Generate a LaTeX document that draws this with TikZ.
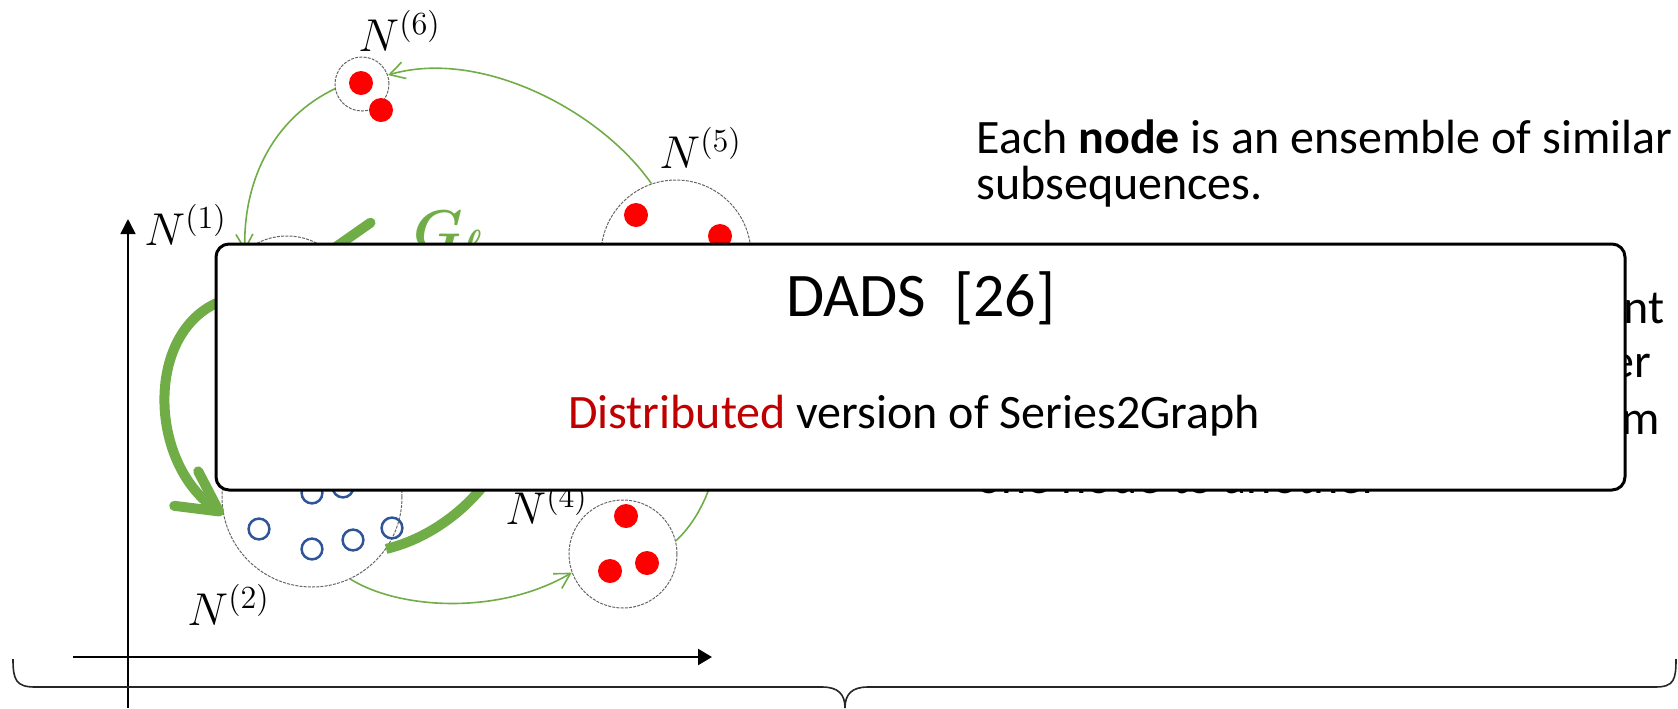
\RequirePackage{fix-cm}
\documentclass[tikz,border=0pt]{standalone}
\usepackage{fontspec}
\setmainfont{Carlito}
\usepackage{bm}
\usetikzlibrary{arrows.meta}
\definecolor{grn}{HTML}{70AD47}
\definecolor{dred}{HTML}{C00000}
\definecolor{ringblue}{HTML}{2F5597}
\begin{document}
\begin{tikzpicture}[x=0.5pt,y=-0.5pt,
  ncirc/.style={circle, draw=black!60, dash pattern=on 1.5pt off 0.6pt, line width=0.5pt, inner sep=0pt},
  thinarr/.style={draw=grn, line width=0.8pt, -{Straight Barb[length=7.5pt,width=8.5pt]}},
  thickA/.style={draw=grn, line width=5pt, -{Straight Barb[length=20pt,width=21pt,round]}},
  thickB/.style={draw=grn, line width=5pt, -{Straight Barb[length=19pt,width=27pt,round]}},
  lab/.style={anchor=base west, inner sep=0pt, font=\fontsize{23}{28}\selectfont},
  body/.style={anchor=base west, inner sep=0pt, font=\fontsize{24}{29}\selectfont},
  ring/.style={draw=ringblue, line width=1.25pt},
]
\useasboundingbox (0,0) rectangle (1678,708);

% axes
\coordinate (yb) at (128,708);
\coordinate (yt) at (128,219);
\coordinate (xl) at (73,657);
\coordinate (xr) at (712,657);
\draw[line width=0.75pt, -{Triangle[length=7.5pt,width=7.5pt]}] (yb) -- (yt);
\draw[line width=1.2pt, -{Triangle[length=7pt,width=8pt]}] (xl) -- (xr);

% brace
\draw[line width=0.8pt, black!85] (13,659) .. controls (13,680) and (16,687) .. (35,687) -- (822,687)
  .. controls (838,687) and (845,694) .. (845,708)
  .. controls (845,694) and (852,687) .. (868,687) -- (1655,687)
  .. controls (1674,687) and (1676,680) .. (1676,659);

% node circles
\node[ncirc, minimum size=27pt] (n6) at (362,84) {};
\node[ncirc, minimum size=75pt] (n5) at (676,255) {};
\node[ncirc, minimum size=65pt] (n1) at (287,301) {};
\node[ncirc, minimum size=90pt] (n2) at (312,497) {};
\node[ncirc, minimum size=54pt] (n4) at (623,554) {};

% thin edges
\draw[thinarr] (n5.109) .. controls (600,110) and (480,48) .. (n6.19);
\draw[thinarr] (n6.190) .. controls (270,120) and (243,185) .. (n1.130);
\draw[thinarr] (n2.295) .. controls (400,610) and (500,615) .. (n4.200);
\draw[thinarr] (n4.14) .. controls (715,505) and (740,420) .. (n5.-70);

% thick edges
\coordinate (kb) at (520,400);
\draw[thickA] (n1.west) .. controls (145,330) and (148,462) .. (n2.191);
\draw[thickB] (n2.325) .. controls (445,535) and (510,480) .. (kb) .. controls (530,320) and (412,250) .. (n1.52);

% points
\fill[red] (361,83) circle (6pt);
\fill[red] (381,110) circle (6pt);
\fill[red] (636,215) circle (6pt);
\fill[red] (720,236) circle (6pt);
\fill[red] (626,516) circle (6pt);
\fill[red] (610,571) circle (6pt);
\fill[red] (647,563) circle (6pt);
\draw[ring] (259,529) circle (5.2pt);
\draw[ring] (312,549) circle (5.2pt);
\draw[ring] (353,540) circle (5.2pt);
\draw[ring] (392,528) circle (5.2pt);
\draw[ring] (312,493) circle (5.2pt);
\draw[ring] (343,487) circle (5.2pt);

% labels
\node[lab] (l6) at (358,51) {$N^{(6)}$};
\node[lab] (l5) at (659,168) {$N^{(5)}$};
\node[lab] (l1) at (144,245) {$N^{(1)}$};
\node[lab] (l2) at (187,625) {$N^{(2)}$};
\node[lab] (l4) at (505,524) {$N^{(4)}$};
\node[anchor=base west, inner sep=0pt, text=grn, font=\fontsize{28}{32}\selectfont] (gl) at (413,249) {$\bm{G}_{\bm{\ell}}$};

% right text
\node[body] (t1) at (976,153) {Each \textbf{node} is an ensemble of similar};
\node[body] (t2) at (976,199) {subsequences.};
\node[body, anchor=base east] (f1) at (1665,323) {nt};
\node[body, anchor=base east] (f2) at (1652,377) {er};
\node[body, anchor=base east] (f3) at (1660,434) {m};
\node[body] (f4) at (976,493) {one node to another};

% overlay box
\node[draw=black, line width=1.5pt, rounded corners=6.5pt, fill=white, minimum width=704.5pt, minimum height=123pt, inner sep=0pt] (box) at (920.5,367) {};
\node[anchor=base, inner sep=0pt, font=\fontsize{31}{37}\selectfont] (title) at (921,316) {DADS\ \ [26]};
\node[anchor=base, inner sep=0pt, font=\fontsize{24}{29}\selectfont] (sub) at (914,428) {\textcolor{dred}{Distributed} version of Series2Graph};
\end{tikzpicture}
\end{document}
